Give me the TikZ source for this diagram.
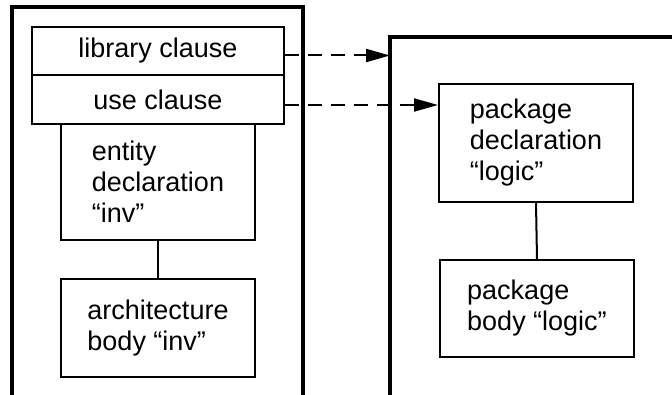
\documentclass[tikz,border=0pt]{standalone}
\usepackage{fontspec}
\setmainfont{Liberation Sans}
\usetikzlibrary{arrows.meta}

\tikzset{
  unit/.style={draw, line width=2pt, minimum width=194pt, align=left, inner sep=0pt},
  clause/.style={draw, line width=2pt, minimum width=252pt, minimum height=48pt, inner sep=0pt},
  frame/.style={line width=4pt},
  link/.style={line width=2pt, dash pattern=on 14pt off 9pt, -{Triangle[length=24pt,width=13pt]}},
}

\begin{document}
\begin{tikzpicture}[x=1pt,y=1pt,font=\fontsize{27}{31}\selectfont]
   \useasboundingbox (0,0) rectangle (672,394);

   %% Entwurf
   \draw[frame] (12,-5) -- (12,387) -- (303,387) -- (303,-5);
   \node[clause] (lib) at (158,343) {library clause};
   \node[clause,minimum height=49pt] (use) at (158,294.5) {use clause};
   \node[unit,minimum height=116pt] (ent) at (158,212) {entity\\declaration\\“inv”};
   \node[unit,minimum height=98pt] (arch) at (158,66) {architecture\\body “inv”};
   \draw[line width=2pt] (ent.south) -- (arch.north);

   %% Bibliothek
   \draw[frame] (390,-5) -- (390,357) -- (680,357);
   \coordinate (libin) at (390,338.5);
   \node[unit,minimum height=118pt] (decl) at (536,251) {package\\declaration\\“logic”};
   \node[unit,minimum height=97pt] (body) at (537,85.5) {package\\body “logic”};
   \draw[line width=2pt] (decl.south) -- (body.north);
   \coordinate (usein) at (439,289);

   %% Verweise
   \draw[link] (lib.east |- libin) -- (libin);
   \draw[link] (use.east |- usein) -- (decl.west |- usein);
\end{tikzpicture}
\end{document}
